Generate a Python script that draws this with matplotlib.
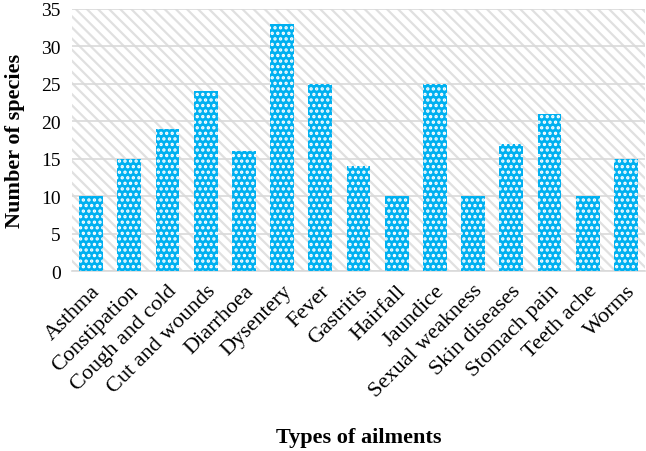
import matplotlib.pyplot as plt
from matplotlib.patches import Rectangle
import matplotlib as mpl

plt.rcParams['font.family'] = ['Liberation Serif', 'DejaVu Serif']

ailments = ["Asthma", "Constipation", "Cough and cold", "Cut and wounds", "Diarrhoea",
            "Dysentery", "Fever", "Gastritis", "Hairfall", "Jaundice",
            "Sexual weakness", "Skin diseases", "Stomach pain", "Teeth ache", "Worms"]
species = [10, 15, 19, 24, 16, 33, 25, 14, 10, 25, 10, 17, 21, 10, 15]
yticks = list(range(0, 36, 5))

fig = plt.figure(figsize=(6.46, 4.52), dpi=100)
ax = fig.add_axes([0.1115, 0.398, 0.887, 0.58])

# hatched background of the plot area
mpl.rcParams['hatch.linewidth'] = 1.6
bg = Rectangle((0, 0), 1, 1, transform=ax.transAxes, facecolor="white",
               edgecolor="#e0e0e0", hatch="\\\\\\", lw=0, zorder=0)
ax.add_patch(bg)

x = list(range(len(ailments)))
ax.bar(x, species, width=0.62, color="#00b0f0", edgecolor="white",
       hatch="...", lw=0, zorder=3)

ax.set_xlim(-0.5, len(ailments) - 0.5)
ax.set_ylim(0, 35)
ax.set_yticks(yticks)
ax.yaxis.grid(True, color="#d9d9d9", lw=1.2, zorder=1)
ax.set_axisbelow(False)
for s in ["top", "right", "left"]:
    ax.spines[s].set_visible(False)
ax.spines["bottom"].set_color("#d9d9d9")
ax.spines["bottom"].set_linewidth(1.2)
ax.tick_params(axis="y", length=0, labelsize=14, pad=8)
ax.tick_params(axis="x", length=0, labelsize=16, pad=7)
ax.set_xticks(x)
ax.set_xticklabels(ailments, rotation=45, ha="right", va="top",
                   rotation_mode="anchor")

ax.set_ylabel("Number of species", fontsize=16, fontweight="bold", labelpad=12)
fig.text(0.556, 0.031, "Types of ailments", fontsize=16, fontweight="bold",
         ha="center", va="center")

fig.savefig("out.png", dpi=100)
